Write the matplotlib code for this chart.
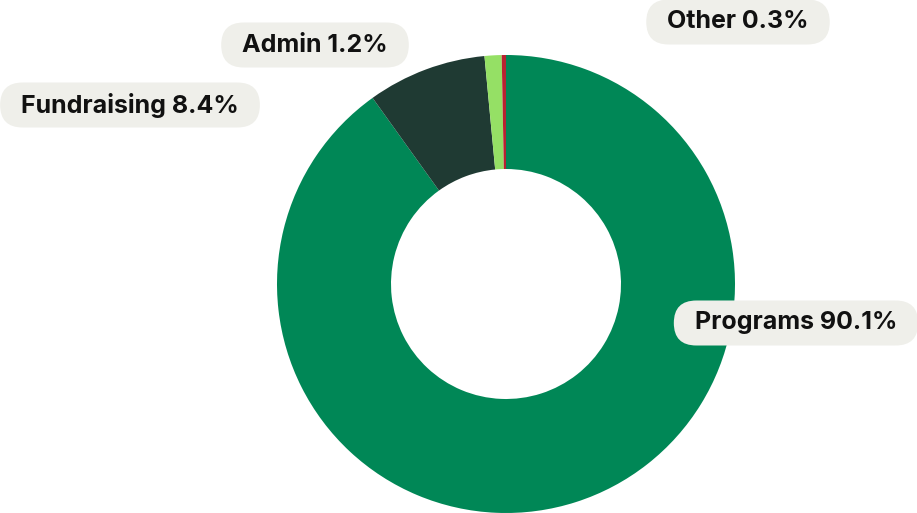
import matplotlib
matplotlib.use("Agg")
import matplotlib.pyplot as plt
from matplotlib.patches import FancyBboxPatch

categories = ["Programs", "Fundraising", "Admin", "Other"]
shares = [90.1, 8.4, 1.2, 0.3]
colors = ["#008756", "#1f3a33", "#95e065", "#b82231"]
# label centres in pixel coords (x, y from top)
label_pos = [(796, 323), (130, 105), (315, 45), (738, 22)]

W, H = 917, 513
fig = plt.figure(figsize=(W / 100, H / 100), dpi=100)
ax = fig.add_axes([0, 0, 1, 1])

cx, cy, r = 506, H - 284, 229
ax.pie(shares, colors=colors, startangle=90, counterclock=False,
       center=(cx, cy), radius=r, frame=True,
       wedgeprops=dict(width=114, linewidth=0))
ax.set_xlim(0, W)
ax.set_ylim(0, H)
ax.set_aspect("equal")
ax.axis("off")

fig.canvas.draw()
renderer = fig.canvas.get_renderer()
for name, val, (px, py) in zip(categories, shares, label_pos):
    t = ax.text(px, H - py, f"{name} {val}%", ha="center", va="center",
                fontsize=18, fontweight="bold", family=["Inter", "DejaVu Sans"],
                color="#111111", zorder=5)
    bb = t.get_window_extent(renderer)
    w = bb.width + 42
    h = 45
    box = FancyBboxPatch((px - w / 2, H - py - h / 2), w, h,
                         boxstyle=f"round,pad=0,rounding_size={h/2}",
                         facecolor="#efefea", edgecolor="none", zorder=4)
    ax.add_patch(box)

fig.savefig("out.png", dpi=100)
